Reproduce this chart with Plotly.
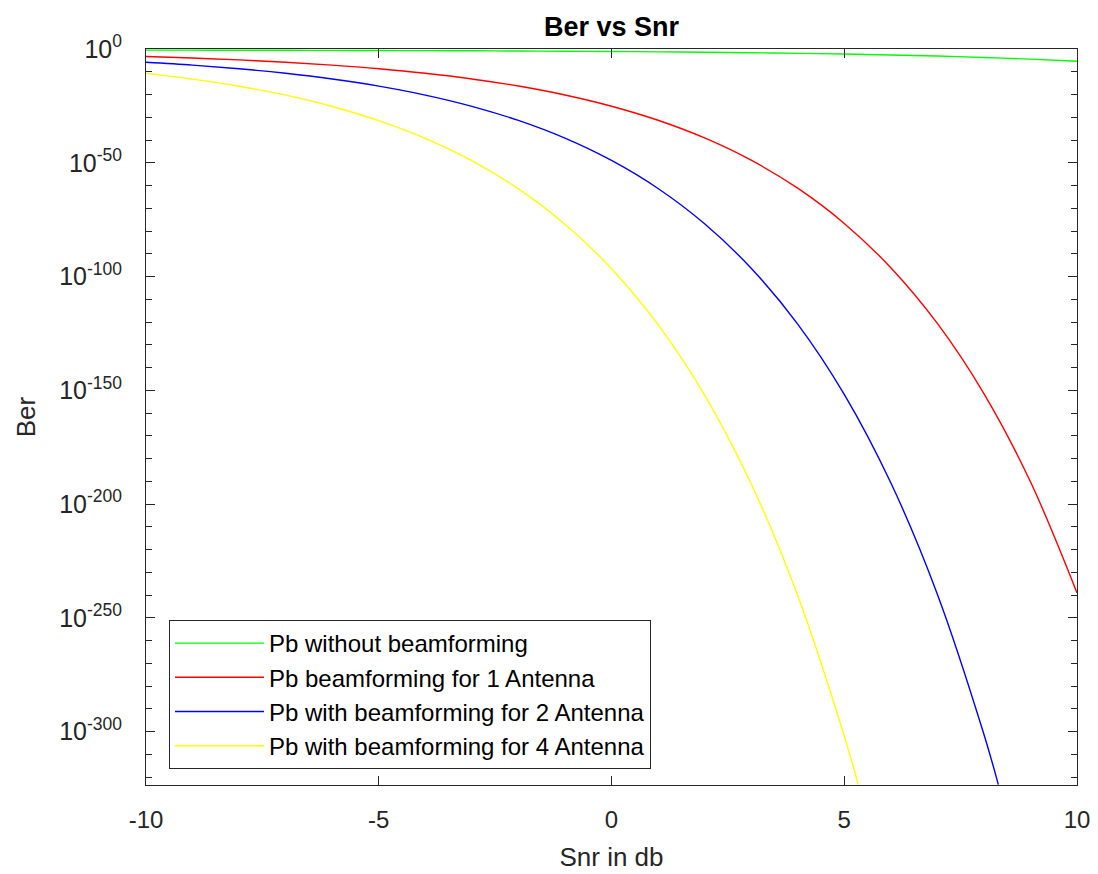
import plotly.graph_objects as go

# ---- data (log10 of BER) ----
snr_db = [-10, -9, -8, -7, -6, -5, -4, -3, -2, -1, 0, 1, 2, 3, 4, 5, 6, 7, 8, 9, 10]
pb_no_bf_log10 = [-0.485, -0.512, -0.543, -0.579, -0.621, -0.671, -0.730, -0.800, -0.884, -0.983,
                  -1.104, -1.250, -1.426, -1.640, -1.903, -2.230, -2.636, -3.108, -3.717, -4.472, -5.412]
pb_bf1_log10 = [-3.32, -3.98, -4.80, -5.82, -7.09, -8.68, -10.67, -13.16, -16.29, -20.21,
                -25.14, -31.33, -39.11, -48.88, -61.18, -76.66, -96.12, -120.61, -151.43, -190.22, -239.05]
snr_db_bf2 = [-10, -9, -8, -7, -6, -5, -4, -3, -2, -1, 0, 1, 2, 3, 4, 5, 6, 7, 8, 8.31]
pb_bf2_log10 = [-5.83, -7.10, -8.70, -10.69, -13.19, -16.32, -20.25, -25.19, -31.40, -39.19,
                -49.00, -61.32, -76.83, -96.35, -120.90, -151.79, -190.68, -239.61, -301.20, -323.2]
snr_db_bf4 = [-10, -9, -8, -7, -6, -5, -4, -3, -2, -1, 0, 1, 2, 3, 4, 5, 5.30]
pb_bf4_log10 = [-10.71, -13.22, -16.36, -20.30, -25.25, -31.47, -39.28, -49.11, -61.47, -77.01,
                -96.57, -121.17, -152.15, -191.12, -240.17, -301.91, -323.2]

series_names = ["Pb without beamforming", "Pb beamforming for 1 Antenna",
                "Pb with beamforming for 2 Antenna", "Pb with beamforming for 4 Antenna"]
series_colors = ["#00FF00", "#FF0000", "#0000FF", "#FFFF00"]

x_ticks = [-10, -5, 0, 5, 10]
y_tick_exps = [0, -50, -100, -150, -200, -250, -300]
y_minor_exps = [e for e in range(-320, 0, 10) if e % 50 != 0]

FONT = "Liberation Sans, Arial, Helvetica, sans-serif"
AX = "#262626"

fig = go.Figure()
series = [
    (snr_db, pb_no_bf_log10),
    (snr_db, pb_bf1_log10),
    (snr_db_bf2, pb_bf2_log10),
    (snr_db_bf4, pb_bf4_log10),
]
for (xs, ys), name, col in zip(series, series_names, series_colors):
    fig.add_trace(go.Scatter(
        x=xs, y=[10.0 ** v for v in ys], mode="lines", name=name,
        line=dict(color=col, width=1.4, shape="spline", smoothing=1.0),
    ))

fig.update_layout(
    width=1098, height=874,
    margin=dict(l=146, r=21, t=49, b=89),
    paper_bgcolor="white", plot_bgcolor="white",
    font=dict(family=FONT, color=AX),
    title=dict(text="<b>Ber vs Snr</b>", font=dict(size=27, color="black", family=FONT),
               x=0.5, xref="paper", xanchor="center",
               y=1 - 27 / 874, yref="container", yanchor="middle"),
    showlegend=True,
    legend=dict(x=(169 - 146) / 931, y=(785 - 620) / 736, xanchor="left", yanchor="top",
                bgcolor="white", bordercolor=AX, borderwidth=1,
                font=dict(size=24, color="black", family=FONT), itemwidth=89,
                tracegroupgap=0),
)
fig.update_xaxes(
    range=[-10, 10], tickmode="array", tickvals=x_ticks, ticktext=[str(v) for v in x_ticks],
    ticks="inside", ticklen=9, tickcolor=AX, tickwidth=1,
    showline=True, linecolor=AX, linewidth=1, mirror="ticks",
    showgrid=False, zeroline=False, automargin=False,
    tickfont=dict(size=24, color=AX, family=FONT), ticklabelstandoff=13,
    title=dict(text="Snr in db", font=dict(size=26, color=AX, family=FONT), standoff=16),
)
fig.update_yaxes(
    type="log", range=[-323.5, 0],
    tickmode="array", tickvals=[10.0 ** e for e in y_tick_exps],
    ticktext=["10<sup>%d</sup>" % e for e in y_tick_exps],
    ticks="inside", ticklen=9, tickcolor=AX, tickwidth=1,
    minor=dict(tickmode="array", tickvals=[10.0 ** e for e in y_minor_exps],
               ticks="inside", ticklen=6, tickcolor=AX, showgrid=False),
    showline=True, linecolor=AX, linewidth=1, mirror="ticks",
    showgrid=False, zeroline=False, automargin=False,
    tickfont=dict(size=25, color=AX, family=FONT), ticklabelstandoff=18,
    title=dict(text="Ber", font=dict(size=26, color=AX, family=FONT), standoff=16),
)

fig.write_html("out.html", config={"displayModeBar": False},
               post_script="document.body.style.margin='0';")
